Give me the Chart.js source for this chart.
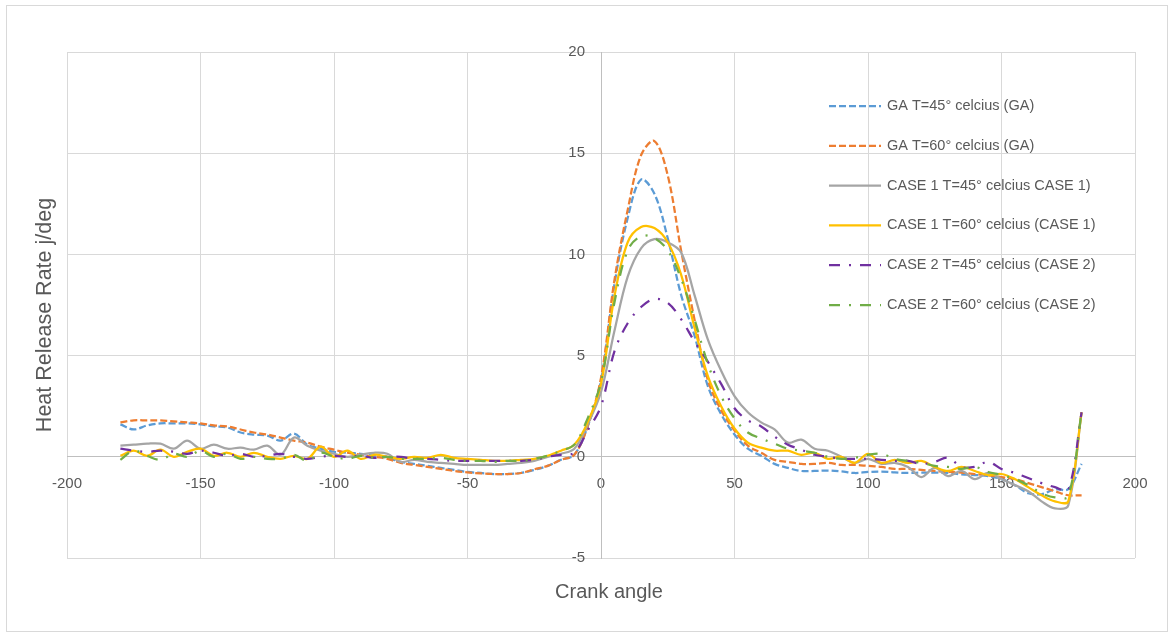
<!DOCTYPE html>
<html>
<head>
<meta charset="utf-8">
<script src="https://cdn.jsdelivr.net/npm/chart.js@4.4.1/dist/chart.umd.min.js"></script>
<style>
  html, body { margin: 0; padding: 0; background: #fff; }
</style>
</head>
<body>
<canvas id="hrr" width="1171" height="637"></canvas>
<script>
// crank angle (deg), one reading every 5 deg
const crankAngle = [
  -180, -175, -170, -165, -160, -155, -150, -145, -140, -135, -130, -125, -120, -115, -110, -105, -100,
  -95, -90, -85, -80, -75, -70, -65, -60, -55, -50, -45, -40, -35, -30, -25, -20, -15, -10, -5,
  0, 5, 10, 15, 20, 25, 30, 35, 40, 45, 50, 55, 60, 65, 70,
  75, 80, 85, 90, 95, 100, 105, 110, 115, 120, 125, 130, 135, 140, 145, 150, 155, 160, 165, 170, 175, 180
];

const gaT45 = [
  1.6, 1.35, 1.55, 1.65, 1.65, 1.65, 1.6, 1.5, 1.45, 1.2, 1.1, 1.05, 0.8, 1.15, 0.6, 0.4, 0.25,
  0.2, 0.15, 0.05, -0.05, -0.25, -0.35, -0.45, -0.55, -0.65, -0.75, -0.8, -0.85, -0.85, -0.8, -0.65, -0.45, -0.15, 0.1, 1.5,
  3.8, 8.5, 11.8, 13.7, 13.0, 10.8, 8.0, 6.0, 3.5, 2.1, 1.1, 0.4, 0.05, -0.35, -0.55,
  -0.7, -0.7, -0.68, -0.72, -0.8, -0.75, -0.73, -0.77, -0.8, -0.78, -0.78, -0.8, -0.87, -0.9, -0.95, -1.1, -1.4, -1.8, -1.85, -1.6, -1.6, -0.35
];
const gaT60 = [
  1.7, 1.8, 1.8, 1.8, 1.75, 1.7, 1.65, 1.55, 1.5, 1.35, 1.2, 1.1, 0.95, 0.8, 0.7, 0.5, 0.35,
  0.2, 0.1, 0.0, -0.1, -0.3, -0.4, -0.5, -0.6, -0.7, -0.77, -0.82, -0.85, -0.85, -0.8, -0.62, -0.45, -0.15, 0.1, 1.5,
  3.9, 8.7, 12.2, 14.9, 15.6, 13.9, 10.2, 6.8, 3.8, 2.3, 1.3, 0.55, 0.2, -0.15, -0.25,
  -0.35, -0.35, -0.3, -0.4, -0.4, -0.45, -0.5, -0.6, -0.6, -0.65, -0.7, -0.75, -0.78, -0.85, -0.92, -1.0, -1.1, -1.3, -1.5, -1.7, -1.9, -1.9
];
const case1T45 = [
  0.55, 0.6, 0.65, 0.65, 0.4, 0.8, 0.4, 0.6, 0.4, 0.45, 0.35, 0.55, 0.1, 0.95, 0.55, 0.3, 0.15,
  0.0, 0.1, 0.2, 0.15, -0.25, -0.15, -0.25, -0.3, -0.35, -0.4, -0.4, -0.4, -0.35, -0.3, -0.2, 0.0, 0.15, 0.4, 1.6,
  3.2, 6.2, 8.9, 10.3, 10.75, 10.6, 10.1, 8.0, 5.8, 4.25, 3.0, 2.2, 1.7, 1.35, 0.7,
  0.85, 0.4, 0.3, 0.0, -0.3, -0.1, -0.35, -0.3, -0.5, -1.0, -0.55, -0.95, -0.7, -1.1, -0.8, -1.1, -1.4, -1.7, -2.2, -2.55, -2.4, 2.2
];
const case1T60 = [
  0.05, 0.3, 0.05, 0.35, 0.0, 0.25, 0.4, 0.05, 0.2, 0.0, 0.2, 0.0, -0.1, 0.05, -0.1, 0.5, 0.0,
  0.3, -0.1, 0.1, 0.0, -0.1, 0.0, -0.05, 0.1, -0.05, -0.1, -0.15, -0.2, -0.2, -0.15, -0.1, 0.05, 0.3, 0.6, 1.7,
  3.6, 7.9, 10.6, 11.35, 11.3, 10.6, 9.0, 6.4, 4.0, 2.5, 1.4, 0.7, 0.45, 0.3, 0.3,
  0.1, 0.2, -0.1, 0.0, -0.3, 0.15, -0.3, -0.15, -0.3, -0.2, -0.5, -0.7, -0.5, -0.7, -0.9, -0.85, -1.1, -1.5, -1.9, -2.2, -2.2, 2.2
];
const case2T45 = [
  0.4, 0.3, 0.25, 0.3, 0.25, 0.15, 0.3, 0.2, 0.05, 0.15, 0.0, 0.05, 0.15, 0.0, -0.1, 0.0, 0.05,
  0.0, 0.05, -0.05, 0.0, 0.0, -0.1, -0.1, -0.15, -0.2, -0.2, -0.2, -0.2, -0.2, -0.2, -0.15, 0.0, 0.1, 0.2, 1.3,
  2.5, 5.2, 6.6, 7.4, 7.8, 7.6, 6.8, 5.7, 4.7, 3.6, 2.4, 1.8, 1.5, 1.0, 0.6,
  0.35, 0.1, 0.0, -0.1, -0.1, -0.1, -0.15, -0.2, -0.2, -0.35, -0.25, -0.05, -0.5, -0.5, -0.25, -0.6, -0.8, -1.05, -1.3, -1.5, -1.65, 2.2
];
const case2T60 = [
  -0.15, 0.3, 0.05, -0.15, 0.15, 0.0, 0.3, 0.0, 0.15, -0.1, 0.0, -0.1, -0.1, 0.1, -0.2, 0.2, 0.0,
  -0.1, 0.05, -0.05, 0.0, -0.1, -0.1, -0.1, -0.05, -0.15, -0.2, -0.2, -0.25, -0.2, -0.2, -0.1, 0.05, 0.3, 0.6, 1.9,
  3.7, 7.6, 10.2, 10.9, 10.8, 10.2, 8.8, 6.8, 4.6, 3.0, 1.9, 1.2, 0.9, 0.65, 0.4,
  0.3, 0.2, 0.0, -0.1, -0.05, 0.1, 0.15, -0.1, -0.2, -0.3, -0.45, -0.5, -0.6, -0.5, -0.75, -0.9, -1.1, -1.4, -1.8, -2.0, -1.95, 2.2
];

const seriesLabels = [
  'GA T=45° celcius (GA)',
  'GA T=60° celcius (GA)',
  'CASE 1 T=45° celcius CASE 1)',
  'CASE 1 T=60° celcius (CASE 1)',
  'CASE 2 T=45° celcius (CASE 2)',
  'CASE 2 T=60° celcius (CASE 2)'
];
const xTitle = 'Crank angle';
const yTitle = 'Heat Release Rate j/deg';

const seriesValues = [gaT45, gaT60, case1T45, case1T60, case2T45, case2T60];
const seriesColors = ['#5B9BD5', '#ED7D31', '#A5A5A5', '#FFC000', '#7030A0', '#70AD47'];
const seriesDash = [[7, 3], [7, 3], [], [], [11, 9, 2, 9], [11, 9, 2, 9]];

const FONT = '"Liberation Sans", Arial, sans-serif';
const TEXT = '#595959';

// border round the whole chart, legend inside the plot, and the axis titles
const decorations = {
  id: 'decorations',
  beforeDraw(chart) {
    const ctx = chart.ctx;
    ctx.save();
    ctx.fillStyle = '#fff';
    ctx.fillRect(0, 0, chart.width, chart.height);
    ctx.strokeStyle = '#d9d9d9';
    ctx.lineWidth = 1;
    ctx.strokeRect(6.5, 5.5, 1161, 626);
    ctx.restore();
  },
  afterDraw(chart) {
    const ctx = chart.ctx;
    ctx.save();
    chart.data.datasets.forEach((ds, i) => {
      const y = 106 + i * 39.8;
      ctx.strokeStyle = ds.borderColor;
      ctx.lineWidth = ds.borderWidth;
      ctx.setLineDash(ds.borderDash);
      ctx.beginPath();
      ctx.moveTo(829, y);
      ctx.lineTo(881, y);
      ctx.stroke();
      ctx.setLineDash([]);
      ctx.fillStyle = TEXT;
      ctx.font = '14.5px ' + FONT;
      ctx.textAlign = 'left';
      ctx.textBaseline = 'middle';
      ctx.fillText(ds.label, 887, y);
    });
    ctx.fillStyle = TEXT;
    ctx.font = '20px ' + FONT;
    ctx.textAlign = 'center';
    ctx.textBaseline = 'middle';
    ctx.fillText(xTitle, 609, 592);
    ctx.font = '21.5px ' + FONT;
    ctx.translate(45, 315);
    ctx.rotate(-Math.PI / 2);
    ctx.fillText(yTitle, 0, 0);
    ctx.restore();
  }
};

const datasets = seriesValues.map((vals, i) => ({
  label: seriesLabels[i],
  data: crankAngle.map((x, j) => ({x: x, y: vals[j]})),
  borderColor: seriesColors[i],
  backgroundColor: seriesColors[i],
  borderWidth: 2.25,
  borderDash: seriesDash[i],
  pointRadius: 0,
  tension: 0.35,
  fill: false,
  order: seriesValues.length - i
}));

new Chart(document.getElementById('hrr'), {
  type: 'line',
  data: {datasets: datasets},
  options: {
    responsive: false,
    animation: false,
    layout: {padding: {left: 67, right: 36, top: 52, bottom: 79}},
    plugins: {
      legend: {display: false},
      tooltip: {enabled: false}
    },
    scales: {
      x: {
        type: 'linear',
        position: {y: 0},
        min: -200,
        max: 200,
        ticks: {stepSize: 50, color: TEXT, font: {family: FONT, size: 15}, padding: 13, maxRotation: 0},
        grid: {color: '#d9d9d9', tickLength: 5},
        border: {color: '#bfbfbf'}
      },
      y: {
        type: 'linear',
        position: 'center',
        min: -5,
        max: 20,
        ticks: {stepSize: 5, color: TEXT, font: {family: FONT, size: 15}, padding: 8},
        grid: {color: '#d9d9d9', tickLength: 8},
        border: {color: '#bfbfbf'}
      }
    }
  },
  plugins: [decorations]
});
</script>
</body>
</html>
